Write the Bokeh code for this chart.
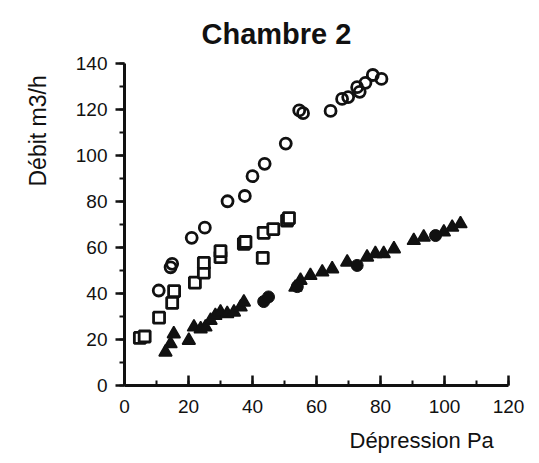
from bokeh.plotting import figure
from bokeh.models import Range1d, SingleIntervalTicker, Title
from bokeh.embed import file_html
from bokeh.resources import INLINE

# Open circles
circ_x = [10.7, 14.4, 14.9, 21.0, 25.1, 32.2, 37.6, 40.0, 43.8, 50.4, 54.6, 55.8,
          64.4, 68.0, 69.9, 72.7, 73.5, 75.3, 77.6, 80.3]
circ_y = [41.3, 51.4, 52.9, 64.2, 68.6, 80.1, 82.4, 91.0, 96.4, 105.2, 119.6, 118.4,
          119.4, 124.6, 125.4, 129.7, 127.7, 131.6, 135.0, 133.3]

# Open squares
sq_x = [4.8, 6.3, 10.8, 14.9, 15.5, 22.0, 24.8, 24.8, 30.0, 30.0, 37.3, 37.8,
        43.2, 43.5, 46.5, 50.8, 51.4]
sq_y = [20.7, 21.3, 29.5, 35.9, 41.0, 44.7, 49.1, 53.3, 55.8, 58.4, 61.6, 62.4,
        55.5, 66.4, 68.0, 71.7, 72.8]

# Filled triangles
tri_x = [12.8, 14.4, 15.4, 20.1, 21.7, 23.8, 25.3, 26.9, 28.4, 30.0, 32.1, 34.2,
         36.3, 37.3, 53.4, 55.0, 58.1, 61.8, 64.9, 69.6, 75.8, 78.4, 81.0, 84.2,
         90.4, 93.5, 99.8, 102.4, 105.0]
tri_y = [14.5, 18.1, 22.4, 19.6, 25.4, 24.6, 25.4, 28.3, 30.4, 31.9, 31.2, 31.9,
         34.1, 36.2, 42.7, 45.7, 47.8, 49.3, 50.7, 53.6, 55.8, 57.3, 57.3, 59.4,
         63.0, 64.5, 66.7, 68.8, 70.3]

# Filled circles
dot_x = [43.5, 45.0, 54.0, 72.7, 97.2]
dot_y = [36.5, 38.5, 43.0, 52.2, 65.2]

title_text = "Chambre 2"
x_label = "Dépression Pa"
y_label = "Débit m3/h"

FONT = "Liberation Sans"
INK = "#111111"

p = figure(width=539, height=463, output_backend="svg", toolbar_location=None,
           x_range=Range1d(0, 120), y_range=Range1d(0, 140),
           min_border_left=124, min_border_right=31, min_border_top=63,
           min_border_bottom=78)
p.outline_line_color = None
p.xgrid.visible = False
p.ygrid.visible = False
p.background_fill_color = "white"
p.border_fill_color = "white"

for ax in (p.xaxis[0], p.yaxis[0]):
    ax.axis_line_width = 3
    ax.axis_line_color = INK
    ax.major_tick_line_width = 2.5
    ax.minor_tick_line_width = 2
    ax.major_tick_line_color = INK
    ax.minor_tick_line_color = INK
    ax.major_label_text_font = FONT
    ax.major_label_text_font_size = "19px"
    ax.major_label_text_color = INK

p.xaxis.ticker = SingleIntervalTicker(interval=20, num_minor_ticks=2)
p.yaxis.ticker = SingleIntervalTicker(interval=20, num_minor_ticks=2)

p.xaxis.major_tick_in = 10
p.xaxis.major_tick_out = 0
p.xaxis.minor_tick_in = 5
p.xaxis.minor_tick_out = 0
p.xaxis.major_label_standoff = 14

p.yaxis.major_tick_in = 0
p.yaxis.major_tick_out = 9
p.yaxis.minor_tick_in = 0
p.yaxis.minor_tick_out = 5
p.yaxis.major_label_standoff = 8

p.scatter(circ_x, circ_y, marker="circle", size=11, fill_color=None,
          line_color=INK, line_width=2.8)
p.scatter(sq_x, sq_y, marker="square", size=11, fill_color="white",
          line_color=INK, line_width=2.8)
p.scatter(tri_x, tri_y, marker="triangle", size=13, fill_color=INK,
          line_color=INK, line_width=1.5)
p.scatter(dot_x, dot_y, marker="circle", size=12, fill_color=INK,
          line_color=INK, line_width=1)

p.add_layout(Title(text=title_text, text_font=FONT, text_font_style="bold",
                   text_font_size="29px", align="left", offset=77,
                   standoff=27, text_color=INK), "above")
p.add_layout(Title(text=x_label, text_font=FONT, text_font_style="normal",
                   text_font_size="22px", align="left", offset=225,
                   standoff=21, text_color=INK), "below")
p.add_layout(Title(text=y_label, text_font=FONT, text_font_style="normal",
                   text_font_size="23px", align="left", offset=199,
                   standoff=44, text_color=INK), "left")

open("out.html", "w").write(file_html(p, INLINE))
